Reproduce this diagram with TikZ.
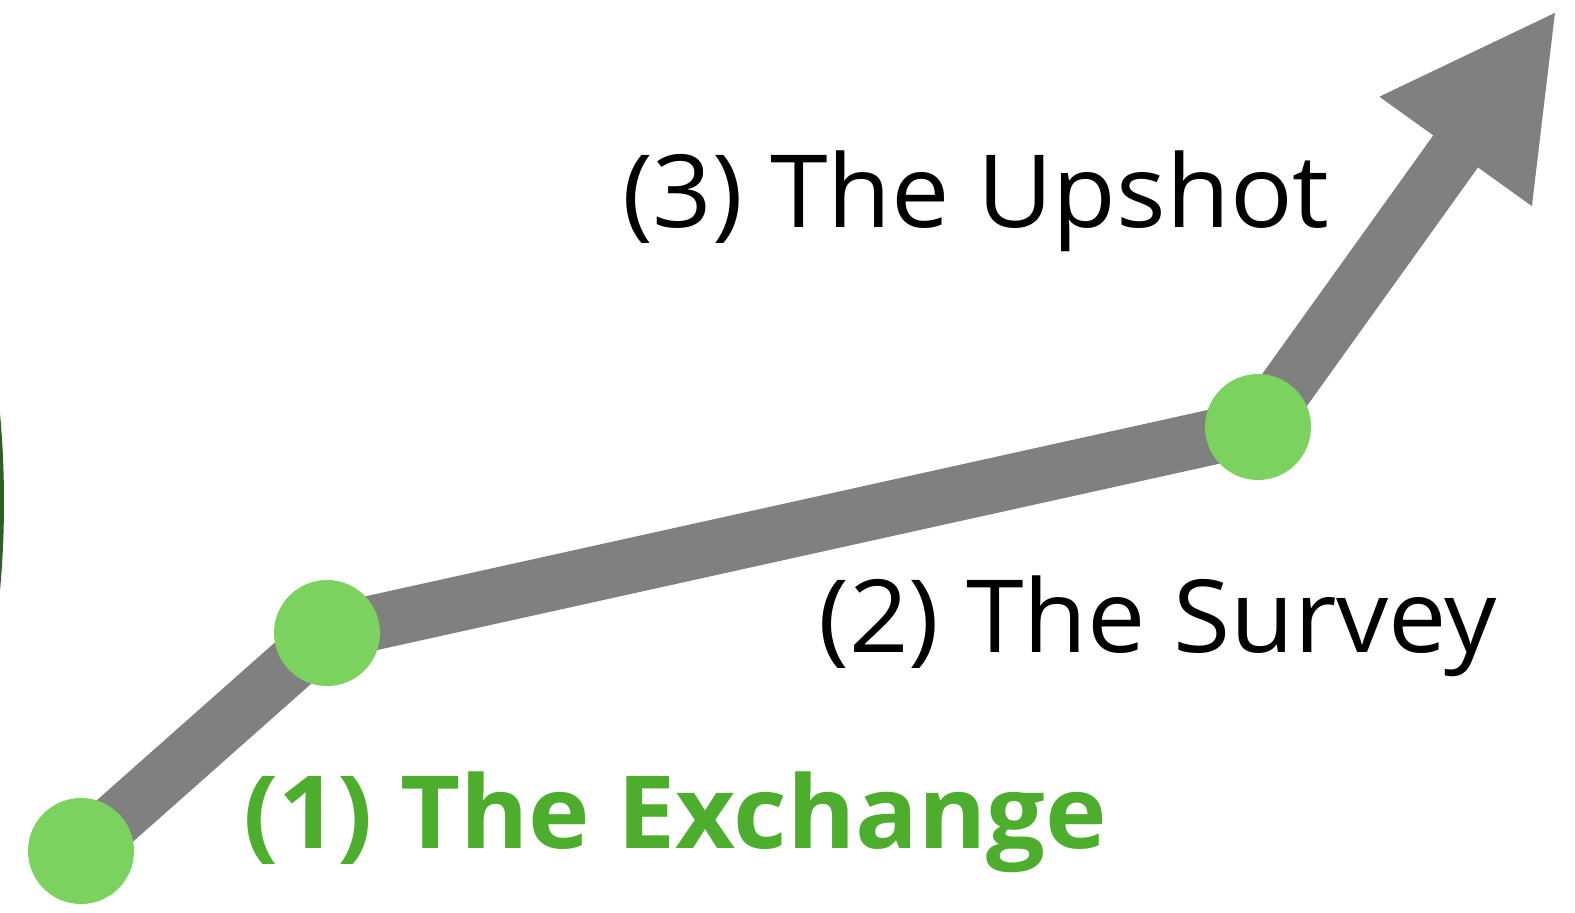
\documentclass[tikz,border=0pt]{standalone}
\usepackage{fontspec}
\setmainfont{Open Sans}
\usetikzlibrary{arrows.meta,backgrounds}
\definecolor{linegray}{HTML}{808080}
\definecolor{dotgreen}{HTML}{7BD25F}
\definecolor{textgreen}{HTML}{4DAD2C}
\definecolor{edgegreen}{HTML}{2F5E27}
\newcommand{\wide}[1]{\scalebox{1.03}[1]{#1}}
\tikzset{
  dot/.style={circle,fill=dotgreen,minimum size=106pt,inner sep=0pt},
  label/.style={inner sep=0pt,anchor=base west,font=\fontsize{101}{120}\selectfont},
  path/.style={draw=linegray,line width=55pt,line join=round}
}
\begin{document}
\begin{tikzpicture}[x=1pt,y=-1pt]
\useasboundingbox (0,0) rectangle (1575,913);
\clip (0,0) rectangle (1575,913);
\fill[edgegreen] (-966,502) circle (970);
\node[dot] (a) at (81,851) {};
\node[dot] (b) at (327,633) {};
\node[dot] (c) at (1258,427) {};
\coordinate (tip) at (1557,10);
\begin{scope}[on background layer]
\draw[path,-{Triangle[width=174pt,length=174pt]}] (a.center) -- (b.center) -- (c.center) -- (tip);
\end{scope}
\node[label] (up) at (622,227) {\wide{(3) The Upshot}};
\node[label] (sv) at (818,652) {\wide{(2) The Survey}};
\node[label,text=textgreen,font=\fontsize{101}{120}\selectfont\bfseries] (ex) at (243,848) {\wide{(1) The Exchange}};
\end{tikzpicture}
\end{document}
